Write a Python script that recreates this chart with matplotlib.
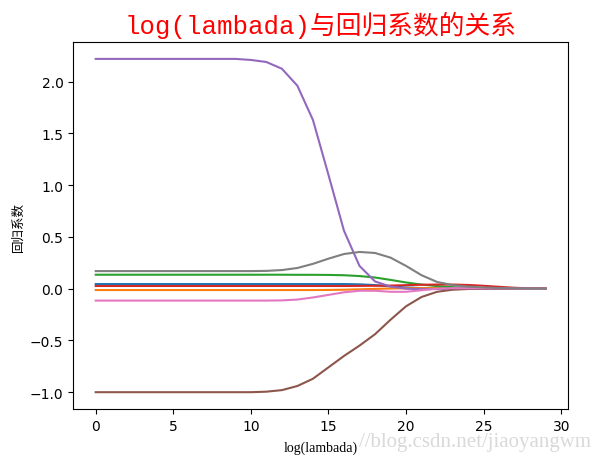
import numpy as np
import matplotlib
matplotlib.use('Agg')
import matplotlib.pyplot as plt

# log(lambda) 序号 0..29
log_lambda = list(range(30))

# 8 个特征的回归系数
w_blue = [0.045]*17 + [0.042, 0.035, 0.022, 0.012, 0.006, 0.003, 0.002, 0.001, 0.0, 0.0, 0.0, 0.0, 0.0]
w_orange = [-0.013]*15 + [-0.012, -0.010, -0.006, -0.002, 0.002, 0.004, 0.005, 0.005, 0.004, 0.003, 0.002, 0.001, 0.0, 0.0, 0.0]
w_green = [0.135]*13 + [0.134, 0.134, 0.133, 0.13, 0.122, 0.108, 0.085, 0.06, 0.04, 0.025, 0.015, 0.008, 0.004, 0.002, 0.001, 0.0, 0.0]
w_red = [0.026]*17 + [0.027, 0.028, 0.03, 0.034, 0.038, 0.04, 0.04, 0.036, 0.028, 0.018, 0.009, 0.003, 0.0]
w_purple = [2.22]*10 + [2.21, 2.19, 2.125, 1.96, 1.63, 1.10, 0.56, 0.22, 0.07, 0.02, 0.0, -0.005, -0.003, 0.0, 0.0, 0.0, 0.0, 0.0, 0.0, 0.0]
w_brown = [-1.0]*11 + [-0.995, -0.98, -0.94, -0.87, -0.76, -0.65, -0.55, -0.44, -0.30, -0.17, -0.08, -0.03, -0.01, -0.003, 0.0, 0.0, 0.0, 0.0, 0.0]
w_pink = [-0.115]*12 + [-0.113, -0.105, -0.085, -0.06, -0.035, -0.02, -0.02, -0.03, -0.03, -0.015, 0.0, 0.005, 0.004, 0.003, 0.002, 0.001, 0.0, 0.0]
w_gray = [0.17]*11 + [0.172, 0.18, 0.2, 0.24, 0.29, 0.335, 0.355, 0.345, 0.30, 0.22, 0.13, 0.065, 0.035, 0.02, 0.012, 0.006, 0.003, 0.001, 0.0]

weights = [w_blue, w_orange, w_green, w_red, w_purple, w_brown, w_pink, w_gray]

fig = plt.figure(figsize=(6, 4.6), dpi=100)
ax = fig.add_subplot(111)
fig.subplots_adjust(left=0.122, right=0.947, top=0.906, bottom=0.109)

for w in weights:
    ax.plot(log_lambda, w)

ax.set_title('log(lambada)与回归系数的关系', color='red', fontsize=18.5,
             family=['Liberation Mono', 'Noto Sans CJK SC'], pad=7)
ax.set_xlabel('log(lambada)', family=['Liberation Serif', 'Noto Sans CJK SC'], fontsize=10, labelpad=6)
ax.set_ylabel('回归系数', family=['Noto Sans CJK SC'], fontsize=9)

# 水印
fig.text(0.985, 0.018, '//blog.csdn.net/jiaoyangwm', ha='right', va='bottom',
         fontsize=15, color='#c0c0c0', alpha=0.6, family='Liberation Serif')

fig.savefig('out.png', dpi=100)
